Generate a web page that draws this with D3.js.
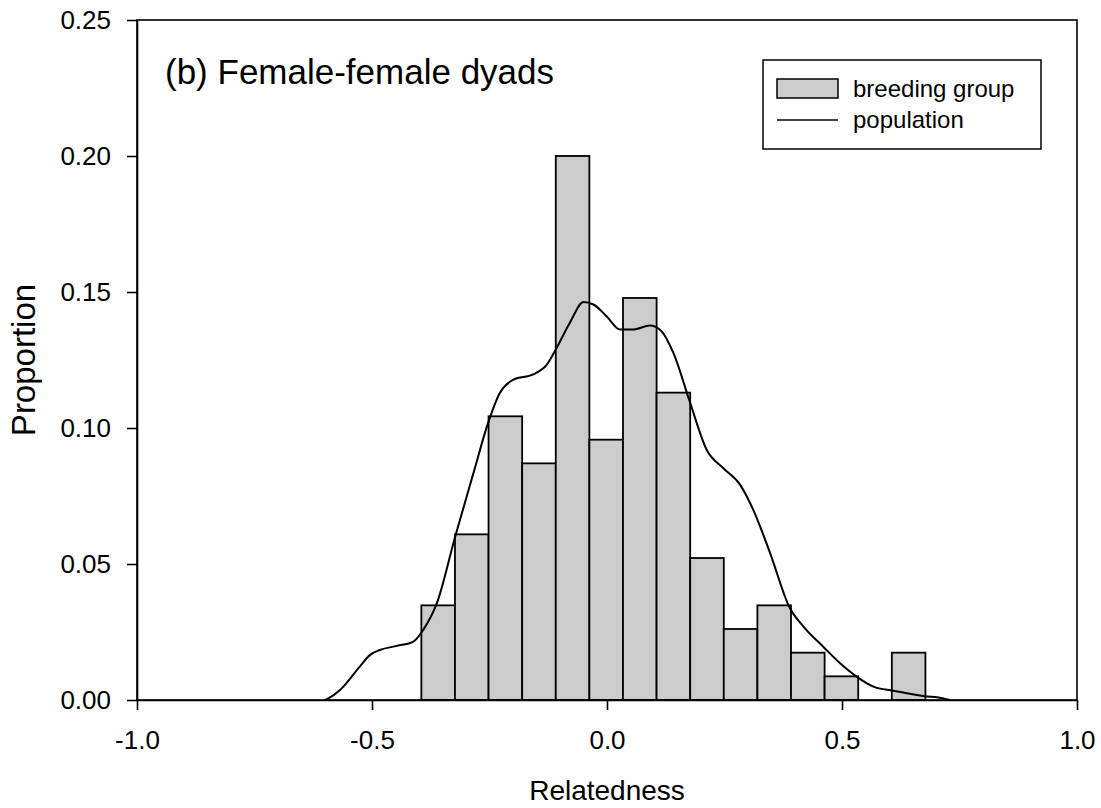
<!DOCTYPE html>
<html>
<head>
<meta charset="utf-8">
<script src="https://cdn.jsdelivr.net/npm/d3@7"></script>
<style>
  html, body { margin: 0; padding: 0; background: #fff; }
  text { font-family: "Liberation Sans", Arial, sans-serif; fill: #000; }
</style>
</head>
<body>
<svg id="chart" width="1101" height="808"></svg>
<script>
// ---- data ----
const binEdges = [-0.395, -0.3235, -0.252, -0.1805, -0.109, -0.0375, 0.034, 0.1055, 0.177, 0.2485, 0.320, 0.3915, 0.463, 0.5345, 0.606, 0.6775];
const breedingGroup = [0.0348, 0.0609, 0.1043, 0.0870, 0.2000, 0.0957, 0.1478, 0.1130, 0.0522, 0.0261, 0.0348, 0.0174, 0.0087, 0.0, 0.0174];
const popX = [-0.600, -0.593, -0.568, -0.526, -0.504, -0.483, -0.447, -0.412, -0.391, -0.362, -0.323, -0.284, -0.253, -0.228, -0.199, -0.157, -0.128, -0.107, -0.079, -0.050, -0.029, -0.001, 0.028, 0.056, 0.091, 0.116, 0.141, 0.177, 0.212, 0.247, 0.283, 0.311, 0.347, 0.389, 0.418, 0.460, 0.496, 0.531, 0.567, 0.609, 0.673, 0.716, 0.730];
const popY = [0.0, 0.0006, 0.0037, 0.0123, 0.0166, 0.0184, 0.0199, 0.0215, 0.0258, 0.0356, 0.0601, 0.0835, 0.1019, 0.1129, 0.1178, 0.1197, 0.1233, 0.1295, 0.1387, 0.1463, 0.1454, 0.1411, 0.1362, 0.1362, 0.1377, 0.1356, 0.1277, 0.1092, 0.0920, 0.0853, 0.0792, 0.0700, 0.0540, 0.0338, 0.0270, 0.0196, 0.0135, 0.0086, 0.0049, 0.0034, 0.0015, 0.0006, 0.0];
const xTicks = [-1.0, -0.5, 0.0, 0.5, 1.0];
const yTicks = [0.00, 0.05, 0.10, 0.15, 0.20, 0.25];
const title = "(b) Female-female dyads";
const xLabel = "Relatedness";
const yLabel = "Proportion";
const legendLabels = ["breeding group", "population"];

// ---- layout ----
const svg = d3.select("#chart");
const L = 137, R = 1077, T = 20, B = 700;
const x = d3.scaleLinear().domain([-1, 1]).range([L, R]);
const y = d3.scaleLinear().domain([0, 0.25]).range([B, T]);

// bars
const bars = breedingGroup.map((v, i) => ({ x0: binEdges[i], x1: binEdges[i + 1], v }));
svg.append("g").selectAll("rect").data(bars.filter(d => d.v > 0)).join("rect")
  .attr("x", d => x(d.x0))
  .attr("y", d => y(d.v))
  .attr("width", d => x(d.x1) - x(d.x0))
  .attr("height", d => y(0) - y(d.v))
  .attr("fill", "#cccccc")
  .attr("stroke", "#000")
  .attr("stroke-width", 1.8);

// population curve
const pts = popX.map((v, i) => [v, popY[i]]);
svg.append("path")
  .datum(pts)
  .attr("fill", "none")
  .attr("stroke", "#000")
  .attr("stroke-width", 2)
  .attr("d", d3.line().x(d => x(d[0])).y(d => y(d[1])).curve(d3.curveMonotoneX));

// frame
svg.append("rect")
  .attr("x", L).attr("y", T).attr("width", R - L).attr("height", B - T)
  .attr("fill", "none").attr("stroke", "#000").attr("stroke-width", 1.6);

// axes
const xAxis = d3.axisBottom(x).tickValues(xTicks).tickFormat(d => d.toFixed(1)).tickSize(10).tickSizeOuter(0).tickPadding(21);
const gx = svg.append("g").attr("transform", `translate(0,${B})`).call(xAxis);
gx.select(".domain").attr("stroke-width", 1.6);
gx.selectAll(".tick line").attr("stroke-width", 1.6);
gx.selectAll(".tick text").attr("font-size", 26).attr("font-family", "Liberation Sans, Arial, sans-serif");

const yAxis = d3.axisLeft(y).tickValues(yTicks).tickFormat(d => d.toFixed(2)).tickSize(10).tickSizeOuter(0).tickPadding(16);
const gy = svg.append("g").attr("transform", `translate(${L},0)`).call(yAxis);
gy.select(".domain").attr("stroke-width", 1.6);
gy.selectAll(".tick line").attr("stroke-width", 1.6);
gy.selectAll(".tick text").attr("font-size", 26).attr("font-family", "Liberation Sans, Arial, sans-serif");

// labels
svg.append("text").attr("x", 165).attr("y", 84).attr("font-size", 35).text(title);
svg.append("text").attr("x", (L + R) / 2).attr("y", 800).attr("text-anchor", "middle").attr("font-size", 28).text(xLabel);
svg.append("text").attr("transform", `translate(35,${(T + B) / 2}) rotate(-90)`).attr("text-anchor", "middle").attr("font-size", 33).text(yLabel);

// legend
const lg = svg.append("g");
lg.append("rect").attr("x", 763).attr("y", 60).attr("width", 278).attr("height", 89)
  .attr("fill", "#fff").attr("stroke", "#000").attr("stroke-width", 1.5);
lg.append("rect").attr("x", 777).attr("y", 79).attr("width", 61).attr("height", 19)
  .attr("fill", "#cccccc").attr("stroke", "#000").attr("stroke-width", 1.5);
lg.append("line").attr("x1", 777).attr("x2", 838).attr("y1", 120).attr("y2", 120)
  .attr("stroke", "#000").attr("stroke-width", 1.5);
lg.append("text").attr("x", 853).attr("y", 97).attr("font-size", 24).text(legendLabels[0]);
lg.append("text").attr("x", 853).attr("y", 128).attr("font-size", 24).text(legendLabels[1]);
</script>
</body>
</html>
